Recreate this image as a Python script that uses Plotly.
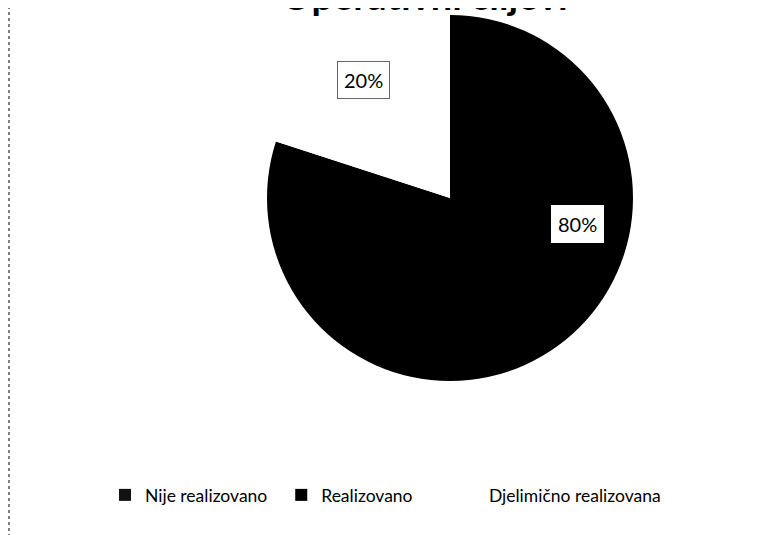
import math
import plotly.graph_objects as go

title_text = "Operativni ciljevi"
labels = ["Nije realizovano", "Realizovano", "Djelimično realizovana"]
values = [0, 80, 20]
colors = ["#111111", "#000000", "#ffffff"]

FONT = "Lato"
W, H = 768, 535
OFF = 8  # page body margin offset (screen px = figure px + OFF)

# pie placement (figure px)
px0, px1 = 267 - OFF, 633 - OFF
py0, py1 = 15 - OFF, 381 - OFF
dom_x = [px0 / W, px1 / W]
dom_y = [1 - py1 / H, 1 - py0 / H]

# data-label placement: (angle deg clockwise from 12 o'clock or None=slice middle, radius fraction)
label_place = {"Realizovano": (101.5, 0.71), "Djelimično realizovana": (None, 0.80)}
# trailing non-breaking spaces used to space the legend entries like the original
legend_pad = {"Nije realizovano": 2, "Realizovano": 7, "Djelimično realizovana": 0}

fig = go.Figure(go.Pie(
    labels=[lab + "\u00a0" * legend_pad[lab] for lab in labels],
    values=values,
    sort=False,
    direction="clockwise",
    rotation=0,
    marker=dict(colors=colors, line=dict(width=0)),
    textinfo="none",
    hoverinfo="label+percent",
    domain=dict(x=dom_x, y=dom_y),
    showlegend=True,
))

total = sum(values)
cx = (px0 + px1) / 2
cy = (py0 + py1) / 2
r = (px1 - px0) / 2
cum = 0
for lab, v in zip(labels, values):
    start = cum
    cum += v
    if v == 0:
        continue
    ang, rf = label_place[lab]
    if ang is None:
        ang = (start + v / 2) / total * 360
    a = math.radians(ang)
    x_px = cx + rf * r * math.sin(a)
    y_px = cy - rf * r * math.cos(a)
    dashed = lab == "Djelimično realizovana"
    fig.add_annotation(
        x=x_px / W, y=1 - y_px / H, xref="paper", yref="paper",
        xanchor="center", yanchor="middle",
        text=f"{v / total:.0%}", showarrow=False,
        font=dict(family=FONT, size=20, color="black"),
        bgcolor="white", bordercolor="#666666" if dashed else "white",
        borderwidth=1, borderpad=6,
    )

# title (cut off at the top of the scanned page)
fig.add_annotation(
    x=(424 - OFF) / W, y=1, xref="paper", yref="paper", xanchor="center", yanchor="bottom",
    yshift=-12, text=f"<b>{title_text}</b>", showarrow=False,
    font=dict(family=FONT, size=38, color="black"),
)

# scan edge line on the left
fig.add_shape(type="line", xref="paper", yref="paper", x0=1 / W, x1=1 / W, y0=0, y1=1,
              line=dict(color="black", width=1, dash="dot"))

fig.update_layout(
    width=W, height=H,
    margin=dict(l=0, r=0, t=0, b=0),
    paper_bgcolor="white", plot_bgcolor="white",
    font=dict(family=FONT, size=17, color="black"),
    legend=dict(
        orientation="h", x=(105 - OFF) / W, y=1 - (495 - OFF) / H,
        xanchor="left", yanchor="middle",
        font=dict(family=FONT, size=17.5, color="black"),
        traceorder="normal",
    ),
)

fig.write_html("out.html")
